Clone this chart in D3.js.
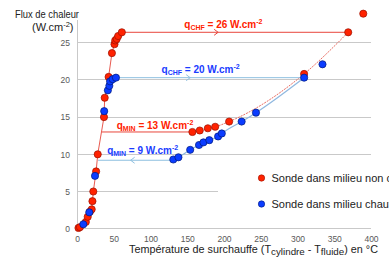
<!DOCTYPE html>
<html><head><meta charset="utf-8">
<script src="https://cdn.jsdelivr.net/npm/d3@7"></script>
<style>
html,body{margin:0;padding:0;background:#fff;}
svg{display:block;font-family:"Liberation Sans",Arial,sans-serif;}
</style></head>
<body><svg id="c" width="389" height="261"></svg>
<script>
// ---- data ----
const xTicks = [0,50,100,150,200,250,300,350,400];
const yTicks = [0,5,10,15,20,25];
// Sonde dans milieu non chauffé (red) - nucleate branch
const redNucleate = [[2,0.1],[4,0.2],[12,0.9],[14.6,1.6],[17.7,2.3],[20,2.6],[21,3.7],[22.2,5.0],[26,7.7],[28.2,10.0],[36.7,15.0],[37.7,17.6],[43,20.4],[47.5,23.6],[51,24.8],[52,25.3],[54,25.5],[56,25.9],[61,26.4]];
// red film branch
const redFilm = [[157,13.0],[167,13.2],[178,13.5],[188,13.7],[207,14.4],[309,20.8],[369,26.4]];
const redExtra = [[389.5,28.9]];
// Sonde dans milieu chauffé (blue)
const blueNucleate = [[8.6,0.6],[16.7,2.2],[24.5,7.1],[37,15.8],[42,18.6],[44,19.2],[45,19.8],[48.5,20.1],[53,20.3]];
const blueFilm = [[131,9.3],[138,9.6],[154,10.6],[166,11.25],[172,11.6],[180,11.9],[192,12.4],[197,12.8],[224,14.4],[243.5,15.6],[309,20.3]];
const blueExtra = [[334,22.1]];
// annotation lines: [x start, x end, flux, arrow x, arrow dir]
const redCHF = [61,369,26.4,192,1];
const blueCHF = [53,309,20.3,154,1];
const redMIN = [33.7,157,13.0,null,0];
const blueMIN = [28.6,131,9.2,73,-1];
const labels = [
  {sub:"CHF", val:"26", x:146, y:26.4, color:"#ff2200", dy:-4},
  {sub:"CHF", val:"20", x:115, y:20.3, color:"#1a3cff", dy:-5},
  {sub:"MIN", val:"13", x:54, y:13.0, color:"#ff2200", dy:-3},
  {sub:"MIN", val:"9", x:41, y:9.2, color:"#1a3cff", dy:-6}
];
const legendItems = ["Sonde dans milieu non chauffé","Sonde dans milieu chauffé"];

// ---- chart ----
const svg = d3.select("#c");
const x = d3.scaleLinear([0,400],[77,371]);
const y = d3.scaleLinear([0,25],[228.7,42.7]);
const RED="#ff2200", REDS="#9a1000", BLUE="#0b3cff", BLUES="#001a7a";
const grid="#c9c9c9";

// gridlines
svg.append("g").selectAll("line").data(yTicks.filter(d=>d>0)).join("line")
  .attr("x1",x(0)).attr("x2",x(400)).attr("y1",d=>y(d)).attr("y2",d=>y(d))
  .attr("stroke",grid).attr("stroke-width",1).attr("shape-rendering","crispEdges");
// axes lines
svg.append("line").attr("x1",x(0)).attr("x2",x(400)).attr("y1",y(0)).attr("y2",y(0))
  .attr("stroke",grid).attr("shape-rendering","crispEdges");
svg.append("line").attr("x1",x(0)).attr("x2",x(0)).attr("y1",y(0)).attr("y2",y(28.1))
  .attr("stroke",grid).attr("shape-rendering","crispEdges");

// tick labels via axes
const ya = svg.append("g").attr("transform",`translate(${x(0)-7},0)`)
  .call(d3.axisLeft(y).tickValues(yTicks).tickSize(0).tickPadding(0));
ya.select(".domain").remove();
ya.selectAll("text").attr("font-size",8.5).attr("fill","#595959").attr("font-family","Liberation Sans, Arial");
const xa = svg.append("g").attr("transform",`translate(0,${y(0)+7})`)
  .call(d3.axisBottom(x).tickValues(xTicks).tickSize(0).tickPadding(0));
xa.select(".domain").remove();
xa.selectAll("text").attr("font-size",8.5).attr("fill","#595959").attr("font-family","Liberation Sans, Arial");

// curves
const line = d3.line().x(d=>x(d[0])).y(d=>y(d[1]));
svg.append("path").attr("d",line(redNucleate)).attr("fill","none").attr("stroke","#e85a50").attr("stroke-width",1);
svg.append("path").attr("d",d3.line().x(d=>x(d[0])).y(d=>y(d[1])).curve(d3.curveMonotoneX)(blueFilm)).attr("fill","none").attr("stroke","#8fb8e0").attr("stroke-width",1.2);
svg.append("path").attr("d",d3.line().x(d=>x(d[0])).y(d=>y(d[1])).curve(d3.curveMonotoneX)(redFilm)).attr("fill","none").attr("stroke","#ea6e64").attr("stroke-width",1).attr("stroke-dasharray","2,1");

// annotation lines
function hline(a,color){
  svg.append("line").attr("x1",x(a[0])).attr("x2",x(a[1])).attr("y1",y(a[2])).attr("y2",y(a[2]))
    .attr("stroke",color).attr("stroke-width",1);
  if(a[3]!==null){
    const ax=x(a[3]), ay=y(a[2]), d=a[4];
    svg.append("path").attr("d",`M${ax-4*d},${ay-3}L${ax},${ay}L${ax-4*d},${ay+3}`)
      .attr("fill","none").attr("stroke",color).attr("stroke-width",1);
  }
}
hline(redCHF,"#e8463c");
hline(blueCHF,"#8fc0e0");
hline(redMIN,"#e8463c");
hline(blueMIN,"#8fc0e0");

// labels
labels.forEach(l=>{
  const t = svg.append("text").attr("x",x(l.x)).attr("y",y(l.y)+l.dy)
    .attr("fill",l.color).attr("font-weight","bold").attr("font-size",10);
  t.append("tspan").text("q");
  t.append("tspan").text(l.sub).attr("font-size",7).attr("dy",2);
  t.append("tspan").text(" = "+l.val+" W.cm").attr("dy",-2);
  t.append("tspan").text("-2").attr("font-size",7).attr("dy",-4);
});

// points
function pts(data,fill,stroke){
  svg.append("g").selectAll("circle").data(data).join("circle")
    .attr("cx",d=>x(d[0])).attr("cy",d=>y(d[1])).attr("r",3.6)
    .attr("fill",fill).attr("stroke",stroke).attr("stroke-width",0.7);
}
pts(redNucleate.concat(redFilm,redExtra),RED,REDS);
pts(blueNucleate.concat(blueFilm,blueExtra),BLUE,BLUES);

// legend
const lg = svg.append("g");
lg.append("rect").attr("x",218).attr("y",162).attr("width",200).attr("height",58).attr("fill","#fff");
legendItems.forEach((t,i)=>{
  const cy = 178+i*26;
  lg.append("circle").attr("cx",261.5).attr("cy",cy).attr("r",3.2)
    .attr("fill",i?BLUE:RED).attr("stroke",i?BLUES:REDS).attr("stroke-width",0.6);
  lg.append("text").attr("x",271.5).attr("y",cy+4).attr("font-size",11).attr("fill","#222").text(t);
});

// axis titles
svg.append("text").attr("x",79).attr("y",17.5).attr("text-anchor","end").attr("font-size",11)
  .attr("fill","#222").attr("textLength",64).attr("lengthAdjust","spacingAndGlyphs").text("Flux de chaleur");
const yt = svg.append("text").attr("x",32).attr("y",30.5).attr("font-size",11).attr("fill","#222");
yt.append("tspan").text("(W.cm");
yt.append("tspan").text("-2").attr("font-size",7.5).attr("dy",-4);
yt.append("tspan").text(")").attr("dy",4);

const xt = svg.append("text").attr("x",129).attr("y",253).attr("font-size",10.8).attr("fill","#222");
xt.append("tspan").text("Température de surchauffe (T");
xt.append("tspan").text("cylindre").attr("font-size",9.8).attr("dy",2);
xt.append("tspan").text(" - T").attr("dy",-2);
xt.append("tspan").text("fluide").attr("font-size",9.8).attr("dy",2);
xt.append("tspan").text(") en °C").attr("dy",-2);
</script></body></html>
